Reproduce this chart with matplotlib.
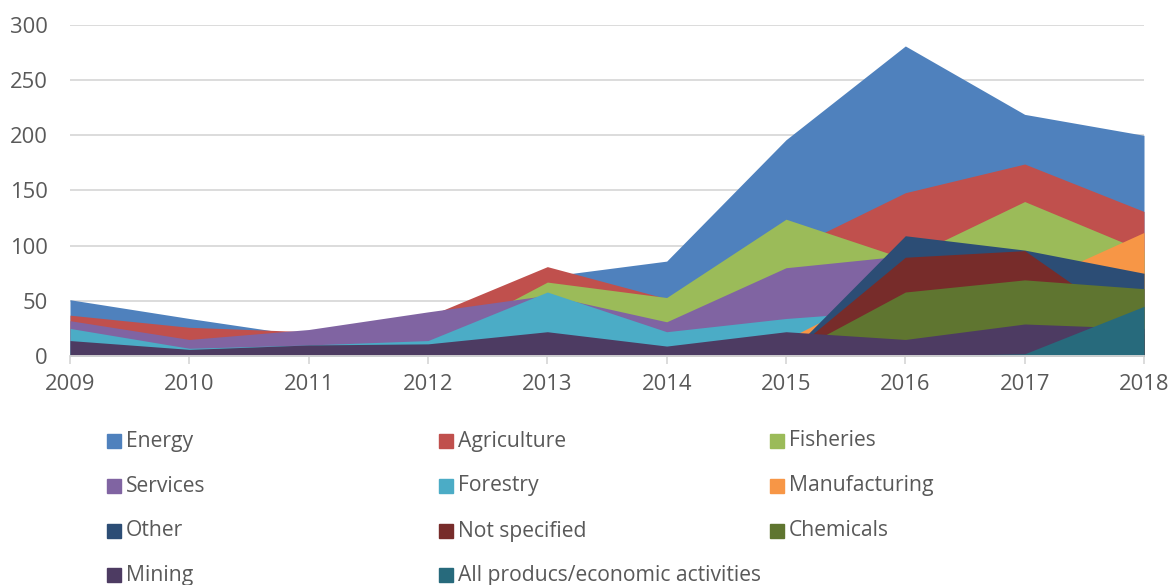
import matplotlib
matplotlib.use("Agg")
import matplotlib.pyplot as plt
from matplotlib.patches import Rectangle

plt.rcParams['font.family'] = ['Open Sans', 'DejaVu Sans']

years = [2009, 2010, 2011, 2012, 2013, 2014, 2015, 2016, 2017, 2018]

# drawn back to front, same order as the legend
names = ['Energy', 'Agriculture', 'Fisheries', 'Services', 'Forestry',
         'Manufacturing', 'Other', 'Not specified', 'Chemicals', 'Mining',
         'All producs/economic activities']

energy = [51, 34, 18, 30, 72, 86, 196, 281, 219, 200]
agriculture = [37, 26, 22, 36, 81, 52, 95, 148, 174, 131]
fisheries = [5, 5, 8, 10, 67, 53, 124, 88, 140, 95]
services = [32, 15, 24, 40, 55, 31, 80, 91, 60, 40]
forestry = [25, 7, 10, 14, 58, 22, 34, 42, 25, 15]
manufacturing = [0, 0, 0, 0, 0, 0, 15, 70, 63, 112]
other = [0, 0, 0, 0, 0, 0, 0, 109, 96, 75]
not_specified = [0, 0, 0, 0, 0, 0, 0, 89.5, 95.5, 20]
chemicals = [0, 0, 0, 0, 0, 0, 0, 58, 69, 61]
mining = [14, 6, 10, 11, 22, 9, 22, 15, 29, 25]
all_products = [0, 0, 0, 0, 0, 0, 0, 0, 2, 45]

series = [energy, agriculture, fisheries, services, forestry, manufacturing,
          other, not_specified, chemicals, mining, all_products]
colors = ['#4F81BD', '#C0504D', '#9BBB59', '#8064A2', '#4BACC6', '#F79646',
          '#2C4D75', '#772C2A', '#5F7530', '#4D3B62', '#276A7C']

txt = '#595959'
grid = '#d9d9d9'

fig = plt.figure(figsize=(11.71, 5.85), dpi=100)
ax = fig.add_axes([70 / 1171, 1 - 356 / 585, (1144 - 70) / 1171, (356 - 25) / 585])

for vals, c in zip(series, colors):
    ax.fill_between(years, 0, vals, color=c, linewidth=0, zorder=2)

ax.set_xlim(2009, 2018)
ax.set_ylim(0, 300)
ax.set_yticks(range(0, 301, 50))
ax.set_xticks(years)
ax.yaxis.grid(True, color=grid, linewidth=1.3, zorder=0)
ax.set_axisbelow(True)
for s in ['top', 'right', 'left']:
    ax.spines[s].set_visible(False)
ax.spines['bottom'].set_color(grid)
ax.spines['bottom'].set_linewidth(1.3)
ax.spines['bottom'].set_zorder(3)
ax.tick_params(axis='y', length=0, pad=16, labelsize=15.8, labelcolor=txt)
ax.tick_params(axis='x', length=6, width=1.3, color=grid, pad=7,
               labelsize=15.8, labelcolor=txt)

# legend, 3 columns
col_x = [107, 439, 770]
row_y = [441, 486, 531, 575]
for i, (n, c) in enumerate(zip(names, colors)):
    x = col_x[i % 3]
    y = row_y[i // 3]
    fig.patches.append(Rectangle((x / 1171, 1 - (y + 7) / 585), 14 / 1171, 14 / 585,
                                 transform=fig.transFigure, color=c))
    fig.text((x + 19) / 1171, 1 - y / 585, n, fontsize=15.2, color=txt,
             va='center', ha='left')

fig.savefig('out.png', dpi=100, facecolor='white')
